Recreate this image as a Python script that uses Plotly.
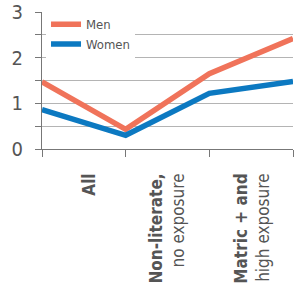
import plotly.graph_objects as go

positions = [0, 1, 2, 3]
men = [1.47, 0.43, 1.65, 2.42]
women = [0.86, 0.3, 1.22, 1.48]
cat_pos = [0.57, 1.5, 2.52]
cat_labels = ["<b>All</b>", "<b>Non-literate,</b><br>no exposure", "<b>Matric + and</b><br>high exposure"]
y_ticks = [0, 0.5, 1, 1.5, 2, 2.5, 3]
y_text = ["0", "", "1", "", "2", "", "3"]

font = "DejaVu Sans Condensed, Liberation Sans Narrow, Arial Narrow, sans-serif"
grey = "#555555"

fig = go.Figure()
fig.add_trace(go.Scatter(x=positions, y=men, mode="lines", name="Men",
                         line=dict(color="#F0735A", width=5.5)))
fig.add_trace(go.Scatter(x=positions, y=women, mode="lines", name="Women",
                         line=dict(color="#0C79C1", width=5.5)))
fig.add_trace(go.Scatter(x=cat_pos, y=[None]*3, xaxis="x2", showlegend=False,
                         hoverinfo="skip", mode="markers"))

fig.update_layout(
    width=296, height=302,
    margin=dict(l=42, r=3, t=12, b=153, autoexpand=False),
    plot_bgcolor="white", paper_bgcolor="white",
    font=dict(family=font, color=grey),
    showlegend=True,
    legend=dict(x=0.016, y=1.02, xanchor="left", yanchor="top",
                bgcolor="white", font=dict(size=13, color=grey),
                tracegroupgap=0, itemwidth=30),
    xaxis=dict(range=[0, 3], tickvals=positions, ticktext=["", "", "", ""],
               ticks="outside", ticklen=7, tickcolor="#777", showgrid=False,
               showline=True, linecolor="#777", linewidth=1, zeroline=False,
               automargin=False),
    xaxis2=dict(range=[0, 3], overlaying="x", side="bottom", anchor="y",
                tickvals=cat_pos, ticktext=cat_labels, ticks="", tickangle=-90,
                tickfont=dict(size=17, color=grey, family=font),
                ticklabelstandoff=20, showgrid=False, showline=False, zeroline=False,
                automargin=False),
    yaxis=dict(range=[0, 3], tickvals=y_ticks, ticktext=y_text,
               ticks="outside", ticklen=6, tickcolor="#777",
               tickfont=dict(size=20, color=grey, family=font),
               ticklabelstandoff=8,
               showgrid=True, gridcolor="#b4b4b4", gridwidth=1,
               showline=True, linecolor="#777", linewidth=1, zeroline=False,
               automargin=False),
)

fig.write_html("out.html", config={"displayModeBar": False},
               post_script="document.body.style.margin='0';document.body.style.padding='0';")
